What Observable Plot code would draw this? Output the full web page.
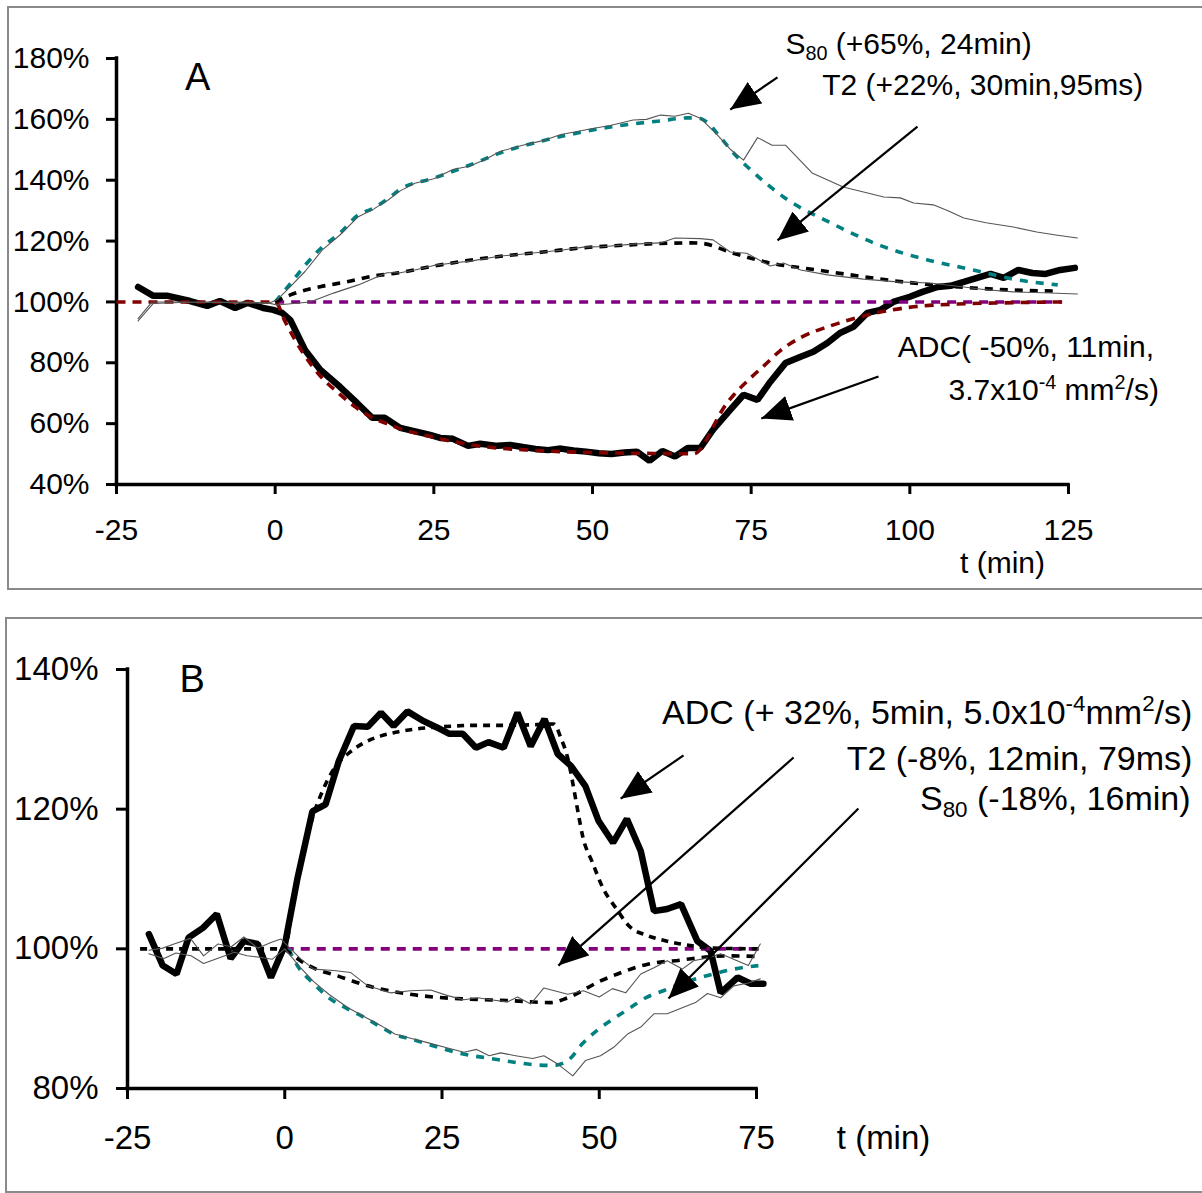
<!DOCTYPE html>
<html><head><meta charset="utf-8">
<script src="https://cdn.jsdelivr.net/npm/d3@7"></script>
<script src="https://cdn.jsdelivr.net/npm/@observablehq/plot@0.6"></script>
<style>
html,body{margin:0;padding:0;background:#fff;}
#root{position:relative;width:1202px;height:1193px;overflow:hidden;font-family:"Liberation Sans",Arial,sans-serif;background:#fff;}
.box{position:absolute;border:2px solid #8a8a8a;box-sizing:border-box;}
.panel{position:absolute;left:0;}
</style></head><body>
<div id="root">
  <div class="box" style="left:7px;top:6px;width:1210px;height:584px"></div>
  <div class="box" style="left:5px;top:617px;width:1210px;height:576px"></div>
  <div id="pa" class="panel" style="top:0px"></div>
  <div id="pb" class="panel" style="top:600px"></div>
</div>
<script>
// ---------------- Panel A data (t in min, value in %) ----------------
const xTicksA = [-25, 0, 25, 50, 75, 100, 125];
const yTicksA = [40, 60, 80, 100, 120, 140, 160, 180];

const adcMeasA = [[-21.6,104.9],[-19.2,102],[-16.9,102],[-13.4,100.3],[-10.7,98.7],[-8.7,100.3],[-6.3,98],[-4.3,99.7],[-1.9,98],[-0.3,97.4],[1.1,96.4],[2.4,94],[4.7,84.2],[7.1,77.7],[10.2,72.1],[12.9,66.8],[15.3,61.9],[17.3,61.9],[19.7,58.6],[22.4,57.3],[24.4,56.3],[26,55.3],[28,55],[30.4,52.7],[32.3,53.4],[35,52.7],[37,53],[39,52.3],[41,51.7],[43,51.3],[45,51.8],[47,51.2],[49,50.8],[51,50.3],[53,50],[55,50.5],[57,50.8],[59,47.8],[61,51],[63,49.2],[65,52],[67,52],[69,58],[71.7,64.5],[73.8,69.5],[76,67.8],[78,73.7],[80.4,79.9],[82.8,82],[84.8,83.6],[87,86.5],[89,89.8],[91.1,91.8],[93.3,96.4],[95.4,97.4],[97.4,100],[100,101.7],[102,103.3],[104.4,104.9],[106.4,105.3],[108.5,106.6],[110.6,107.9],[112.7,109.2],[114.8,107.9],[117.1,110.5],[119.3,109.5],[121.4,109.2],[123.7,110.5],[126,111.2]];
const adcFitA = [[-25,100],[0,100],[1.6,93.4],[4.3,83.5],[7.4,75],[10,70],[12.6,65.5],[15,62.3],[17.6,60],[20.2,58],[22.9,56.5],[25,55.5],[27.6,54.3],[30,53.3],[35,52],[40,51.3],[45,50.8],[50,50.5],[55,50.3],[60,50.2],[66,50.1],[67.5,53],[69,59],[70.6,65],[72.5,70],[74.9,75],[77,79],[79.6,84],[83,88.5],[87,91.8],[90,93.8],[93.3,95.7],[97,97.3],[100.6,98.4],[107.5,99.3],[115,99.7],[124,100]];
const baseA = [[0,100],[124,100]];
const s80MeasA = [[-21.6,94.5],[-19.4,100],[-15,100],[-10,99.8],[-5,100],[-1,99.6],[0.3,100.7],[2.4,105],[4.7,110],[7.4,117],[10.2,122],[13.1,128],[15.5,130.5],[17.8,133.5],[19.7,136.5],[22,139],[25,140.5],[28,143.5],[30.7,144.7],[33,146.7],[35.5,149.5],[39,151.5],[42.2,153],[45,155],[47.6,156],[50,157],[52.8,158],[56.4,159.8],[58.5,160],[60.7,161.4],[63,161],[65.1,162],[67,160.4],[69.7,154.8],[71.8,150],[73.8,146.6],[76,154],[78.3,151.5],[80.4,151.5],[84.6,142.4],[89.5,137.8],[95.9,134.5],[98.5,134.2],[100.6,132.5],[103.7,131.9],[106,130],[108.5,127.6],[112,126],[116.3,124.6],[120,123],[123,122],[126.4,121]];
const s80FitA = [[0,100],[2.4,106],[4.7,112],[7.4,118],[10.2,122.6],[13.1,128.6],[15.5,130.8],[17.8,134],[19.7,137],[25,140.7],[30.7,145],[35.5,149],[42.2,153],[47.6,155.5],[52.8,157.5],[56.4,158.5],[60.7,159.5],[65,160.5],[66.5,160.5],[68.1,159],[70.1,154.2],[72.8,147.6],[75.3,142.7],[80.1,134.5],[88,125.5],[95.4,118.5],[102.8,113.8],[110,110.5],[116.3,107.5],[123.3,105.6]];
const t2MeasA = [[-21.6,93.8],[-19.2,99.5],[-15,99.8],[-10,100],[-5,99.7],[-1,99.6],[0.3,99],[5.5,100],[9.2,102.9],[13.1,105.6],[17.6,109.6],[19.7,109.6],[22,110.5],[25,112],[28,112.8],[31,113.5],[35.5,115.1],[38,115.5],[42.2,116.4],[45,117],[48.6,118],[52,118.2],[56.4,119],[60.7,119.4],[63,121],[67,120.8],[69,120.4],[71.7,116.4],[74.3,116],[78,111.8],[80.1,112.8],[82.8,110.5],[87,108.9],[92.7,107.5],[98,106.6],[103.2,106.2],[108.5,104.9],[112,104],[116.3,103.3],[121,103],[126.4,102.6]];
const t2FitA = [[0,100],[2.4,102.3],[7.1,105],[11.3,106.6],[15.5,108.5],[19.2,109.5],[25,111.8],[30,113.5],[35.5,115],[42.2,116.4],[48.6,117.8],[56.4,118.8],[60.7,119.2],[65.4,119.4],[67,119.3],[72.2,116],[77.5,113],[85.4,110.5],[92,108.5],[97.7,106.9],[104,105.5],[110,104.6],[116.3,103.9],[122.9,103.6]];

const labelsA = [
  {x: 80.4, y: 184.8, text: "S{_80} (+65%, 24min)", anchor: "start"},
  {x: 86.2, y: 171.0, text: "T2 (+22%, 30min,95ms)", anchor: "start"},
  {x: 98.1, y: 85.2, text: "ADC( -50%, 11min,", anchor: "start"},
  {x: 106.1, y: 70.8, text: "3.7x10{^-4} mm{^2}/s)", anchor: "start"}
];
const panelLabelA = [{x: -12.2, y: 173.5, text: "A"}];
const axisTitleA = [{x: 114.6, y: 14.2, text: "t (min)"}];
const arrowsA = [
  {x1: 79.15, y1: 173.8, x2: 71.7, y2: 163.2},
  {x1: 101.2, y1: 157.6, x2: 79.15, y2: 120.2},
  {x1: 95.06, y1: 75.5, x2: 76.6, y2: 61.7}
];

// ---------------- Panel B data ----------------
const xTicksB = [-25, 0, 25, 50, 75];
const yTicksB = [80, 100, 120, 140];

const adcMeasB = [[-21.6,102.1],[-19.4,97.6],[-17.2,96.4],[-15.3,101.6],[-13,103],[-10.8,105],[-8.6,98.6],[-6.5,101.1],[-4.3,100.7],[-2.2,95.9],[0,100.5],[2,110],[4.4,119.7],[6.5,120.7],[8.6,126.9],[11,131.9],[13.2,131.8],[15.3,133.8],[17.3,131.9],[19.5,134],[22.1,132.6],[24.2,131.7],[26.1,130.8],[28.3,130.8],[30.4,128.8],[32.4,129.6],[34.8,128.8],[37,133.8],[39.1,129],[41.3,132.9],[43.4,127.9],[45.5,126.2],[47.8,123.3],[49.9,118.3],[52.2,115.2],[54.4,118.6],[56.6,114],[58.7,105.4],[60.8,105.7],[63,106.4],[65.6,101.1],[67.7,99.7],[69.3,93.7],[72,95.9],[74.1,95],[76.1,95]];
const adcFitB = [[-23,100],[0,100],[1.5,108],[3,114],[4.5,119],[6,122.6],[8.4,126.5],[10,127.9],[12.6,129.5],[15.3,130.5],[17.6,131],[21,131.5],[25,131.8],[30,132],[35,132],[40,132.1],[42.8,132.2],[43.9,130.2],[45.1,126.9],[45.8,123.7],[46.6,119.7],[47.4,116],[48.9,112.4],[50.7,108.5],[52.6,105.9],[54.7,103.3],[57.7,101.9],[60.8,101.1],[65,100.4],[68.2,100.1],[75.5,100]];
const baseB = [[0,100],[76,100]];
const s80MeasB = [[-21.6,99.3],[-19.2,98.6],[-17.3,99.4],[-14.9,99],[-12.9,97.9],[-10.5,98.7],[-8,99.5],[-6,99],[-4,98.8],[-2,98.5],[0,100],[2.5,97.3],[4.6,95.3],[7,93.5],[10,91.6],[12.6,90.3],[15.3,89],[17.5,87.8],[20,87.2],[23,86.5],[25.9,85.8],[28.5,85.2],[30.5,85.6],[32.5,84.7],[34.3,85.1],[36.7,84.7],[39.4,84.3],[41.2,84.7],[43.4,83.5],[45.8,81.8],[47.8,84],[50.2,84.7],[52.3,85.9],[54.5,87.8],[56.6,88.8],[58.7,90.7],[60.8,90.7],[63.3,91.6],[65.3,92.3],[67.2,93.6],[69.3,93],[71.4,94.7],[73.7,95.1],[75.6,95.7]];
const s80FitB = [[0.6,100],[2,97.6],[4.6,95],[7.3,92.8],[10,91.4],[12.6,90.2],[15.3,88.8],[17.3,87.8],[20,87.1],[23.7,86.1],[28,85],[32.7,84.3],[37,83.7],[39.6,83.4],[42.8,83.3],[45.4,84.3],[47.3,86.4],[49.9,88.5],[52.6,90.2],[55,91.6],[57.4,93],[60.2,94],[65,95.6],[68.2,96.4],[71.4,97.1],[75.3,97.6]];
const t2MeasB = [[-21.6,99.8],[-19.4,100.1],[-17.6,100.7],[-15,101.5],[-12.9,99],[-10.6,100.7],[-8.5,100.3],[-6.5,101.7],[-4.3,100.1],[-2.2,100.9],[-0.6,101.4],[0.5,100.4],[2.5,98.6],[4.6,97.1],[7.8,96.9],[10.5,96.6],[13.2,94.7],[16.8,93.7],[20,94],[23.2,94.1],[25.9,93.3],[28.5,92.7],[30.7,93],[32.7,92.7],[35.4,92.4],[37,93.1],[39.1,92.1],[41.2,94.4],[45,93.5],[47.5,94],[50,93.1],[52.1,94.3],[54.2,93.7],[56.6,96.4],[58.7,97.3],[60.8,98.3],[63.2,97.1],[65,98.3],[67.2,98.7],[69.3,99.3],[73.7,97.6],[75.6,100.7]];
const t2FitB = [[0,100],[2.5,98.3],[5.2,97],[7.8,96.3],[13.2,94.7],[18.4,93.7],[23.7,93.1],[29.1,92.8],[35.4,92.6],[42.3,92.3],[45,93],[50.2,95.4],[52.9,96.4],[57.7,97.8],[63,98.4],[65.6,98.7],[70.4,99],[75.3,98.9]];

const labelsB = [
  {x: 144.3, y: 133.7, text: "ADC (+ 32%, 5min, 5.0x10{^-4}mm{^2}/s)", anchor: "end"},
  {x: 144.3, y: 127.2, text: "T2 (-8%, 12min, 79ms)", anchor: "end"},
  {x: 144.0, y: 121.4, text: "S{_80} (-18%, 16min)", anchor: "end"}
];
const panelLabelB = [{x: -14.7, y: 138.5, text: "B"}];
const axisTitleB = [{x: 95.2, y: 72.9, text: "t (min)"}];
const arrowsB = [
  {x1: 63.4, y1: 127.7, x2: 53.4, y2: 121.5},
  {x1: 80.9, y1: 127.4, x2: 43.5, y2: 97.6},
  {x1: 91.2, y1: 120.1, x2: 61.0, y2: 92.9}
];

// ---------------- helpers ----------------
const FONT = "Liberation Sans, Arial, Helvetica, sans-serif";
const TEAL = "#008080", PURPLE = "#800080", DARKRED = "#800000", GRAY = "#555";
const pts = a => a.map(([t, v]) => ({t, v}));

function triMarker(color, context) {
  const doc = (context && context.document) || document;
  const ns = "http://www.w3.org/2000/svg";
  const m = doc.createElementNS(ns, "marker");
  m.setAttribute("viewBox", "-30 -13 30 26");
  m.setAttribute("markerWidth", "30");
  m.setAttribute("markerHeight", "26");
  m.setAttribute("markerUnits", "userSpaceOnUse");
  m.setAttribute("orient", "auto");
  m.setAttribute("refX", "0");
  m.setAttribute("refY", "0");
  const p = doc.createElementNS(ns, "path");
  p.setAttribute("d", "M0,0L-30,-13L-30,13Z");
  p.setAttribute("fill", "black");
  p.setAttribute("stroke", "none");
  m.appendChild(p);
  return m;
}

function richify(svg) {
  const ns = "http://www.w3.org/2000/svg";
  svg.querySelectorAll("text").forEach(t => {
    const s = t.textContent;
    if (!/\{[_^]/.test(s)) return;
    const fs = parseFloat(t.getAttribute("data-fs")) || 30;
    const re = /\{([_^])([^}]*)\}/g;
    const parts = []; let last = 0, m;
    while ((m = re.exec(s))) {
      if (m.index > last) parts.push({s: s.slice(last, m.index), k: ""});
      parts.push({s: m[2], k: m[1]});
      last = re.lastIndex;
    }
    if (last < s.length) parts.push({s: s.slice(last), k: ""});
    while (t.firstChild) t.removeChild(t.firstChild);
    let off = 0;
    for (const p of parts) {
      const ts = document.createElementNS(ns, "tspan");
      let target = 0, size = fs;
      if (p.k === "_") { target = fs * 0.2; size = fs * 0.66; }
      if (p.k === "^") { target = -fs * 0.38; size = fs * 0.66; }
      ts.setAttribute("dy", (target - off).toFixed(2));
      ts.setAttribute("font-size", size.toFixed(1));
      off = target;
      ts.textContent = p.s;
      t.appendChild(ts);
    }
  });
}

function build(cfg, marker) {
  const {xd, yd, xt, yt, ml, mr, mt, mb, h, fsTick, tickSize, padX, padY,
         lines, labels, panel, title, arrows, fsText, fsTitle} = cfg;
  return Plot.plot({
    width: 1202, height: h,
    marginLeft: ml, marginRight: mr, marginTop: mt, marginBottom: mb,
    x: {domain: xd}, y: {domain: yd},
    style: {fontFamily: FONT, fontSize: fsTick + "px", color: "black", background: "transparent", overflow: "visible"},
    marks: [
      Plot.axisX({ticks: xt, tickFormat: d => String(d), tickSize, tickPadding: padX, fontSize: fsTick, strokeWidth: 3, label: null}),
      Plot.axisY({ticks: yt, tickFormat: d => d + "%", tickSize, tickPadding: padY, fontSize: fsTick, strokeWidth: 3, label: null}),
      Plot.ruleY([yd[0]], {x1: xd[0], x2: xd[1], stroke: "black", strokeWidth: 3.5, strokeLinecap: "square"}),
      Plot.ruleX([xd[0]], {y1: yd[0], y2: yd[1], stroke: "black", strokeWidth: 3.5, strokeLinecap: "square"}),
      ...lines,
      Plot.link(arrows, {x1: "x1", y1: "y1", x2: "x2", y2: "y2", stroke: "black", strokeWidth: 2.2, markerEnd: marker}),
      Plot.text(labels.filter(d => d.anchor === "start"), {x: "x", y: "y", text: "text", textAnchor: "start", fontSize: fsText, fill: "black"}),
      Plot.text(labels.filter(d => d.anchor === "end"), {x: "x", y: "y", text: "text", textAnchor: "end", fontSize: fsText, fill: "black"}),
      Plot.text(panel, {x: "x", y: "y", text: "text", fontSize: 38, fill: "black"}),
      Plot.text(title, {x: "x", y: "y", text: "text", fontSize: fsTitle, fill: "black"})
    ]
  });
}

function dashed(data, color, dash) {
  return Plot.line(pts(data), {x: "t", y: "v", stroke: color, strokeWidth: 3.6, strokeDasharray: dash, strokeLinecap: "butt", curve: "monotone-x"});
}
function thin(data) {
  return Plot.line(pts(data), {x: "t", y: "v", stroke: GRAY, strokeWidth: 1.1});
}
function thick(data) {
  return Plot.line(pts(data), {x: "t", y: "v", stroke: "black", strokeWidth: 6.5, strokeLinejoin: "miter", strokeLinecap: "round"});
}

const cfgA = {
  xd: [-25, 125], yd: [40, 180], xt: xTicksA, yt: yTicksA,
  ml: 116, mr: 134, mt: 58, mb: 106, h: 590, fsTick: 30, tickSize: 10, padX: 24, padY: 17,
  lines: [
    thick(adcMeasA),
    dashed(baseA, PURPLE, "9,7"),
    dashed(adcFitA, DARKRED, "9,7"),
    dashed(s80FitA, TEAL, "8,8"),
    dashed(t2FitA, "black", "8,7"),
    thin(s80MeasA),
    thin(t2MeasA)
  ],
  labels: labelsA, panel: panelLabelA, title: axisTitleA, arrows: arrowsA, fsText: 30, fsTitle: 30
};
const cfgB = {
  xd: [-25, 75], yd: [80, 140], xt: xTicksB, yt: yTicksB,
  ml: 127, mr: 446, mt: 69, mb: 105, h: 593, fsTick: 33, tickSize: 11, padX: 26, padY: 18,
  lines: [
    thick(adcMeasB),
    dashed(baseB, PURPLE, "9,7"),
    dashed(adcFitB, "black", "7,6"),
    dashed(s80FitB, TEAL, "8,8"),
    dashed(t2FitB, "black", "8,7"),
    thin(s80MeasB),
    thin(t2MeasB)
  ],
  labels: labelsB, panel: panelLabelB, title: axisTitleB, arrows: arrowsB, fsText: 34, fsTitle: 33
};

function render(cfg, id) {
  let svg;
  try { svg = build(cfg, triMarker); }
  catch (e) { svg = build(cfg, "arrow"); }
  svg.querySelectorAll("g[font-size]").forEach(g => {
    const f = g.getAttribute("font-size");
    g.querySelectorAll("text").forEach(t => t.setAttribute("data-fs", f));
  });
  richify(svg);
  document.getElementById(id).appendChild(svg);
}
render(cfgA, "pa");
render(cfgB, "pb");
</script>
</body></html>
